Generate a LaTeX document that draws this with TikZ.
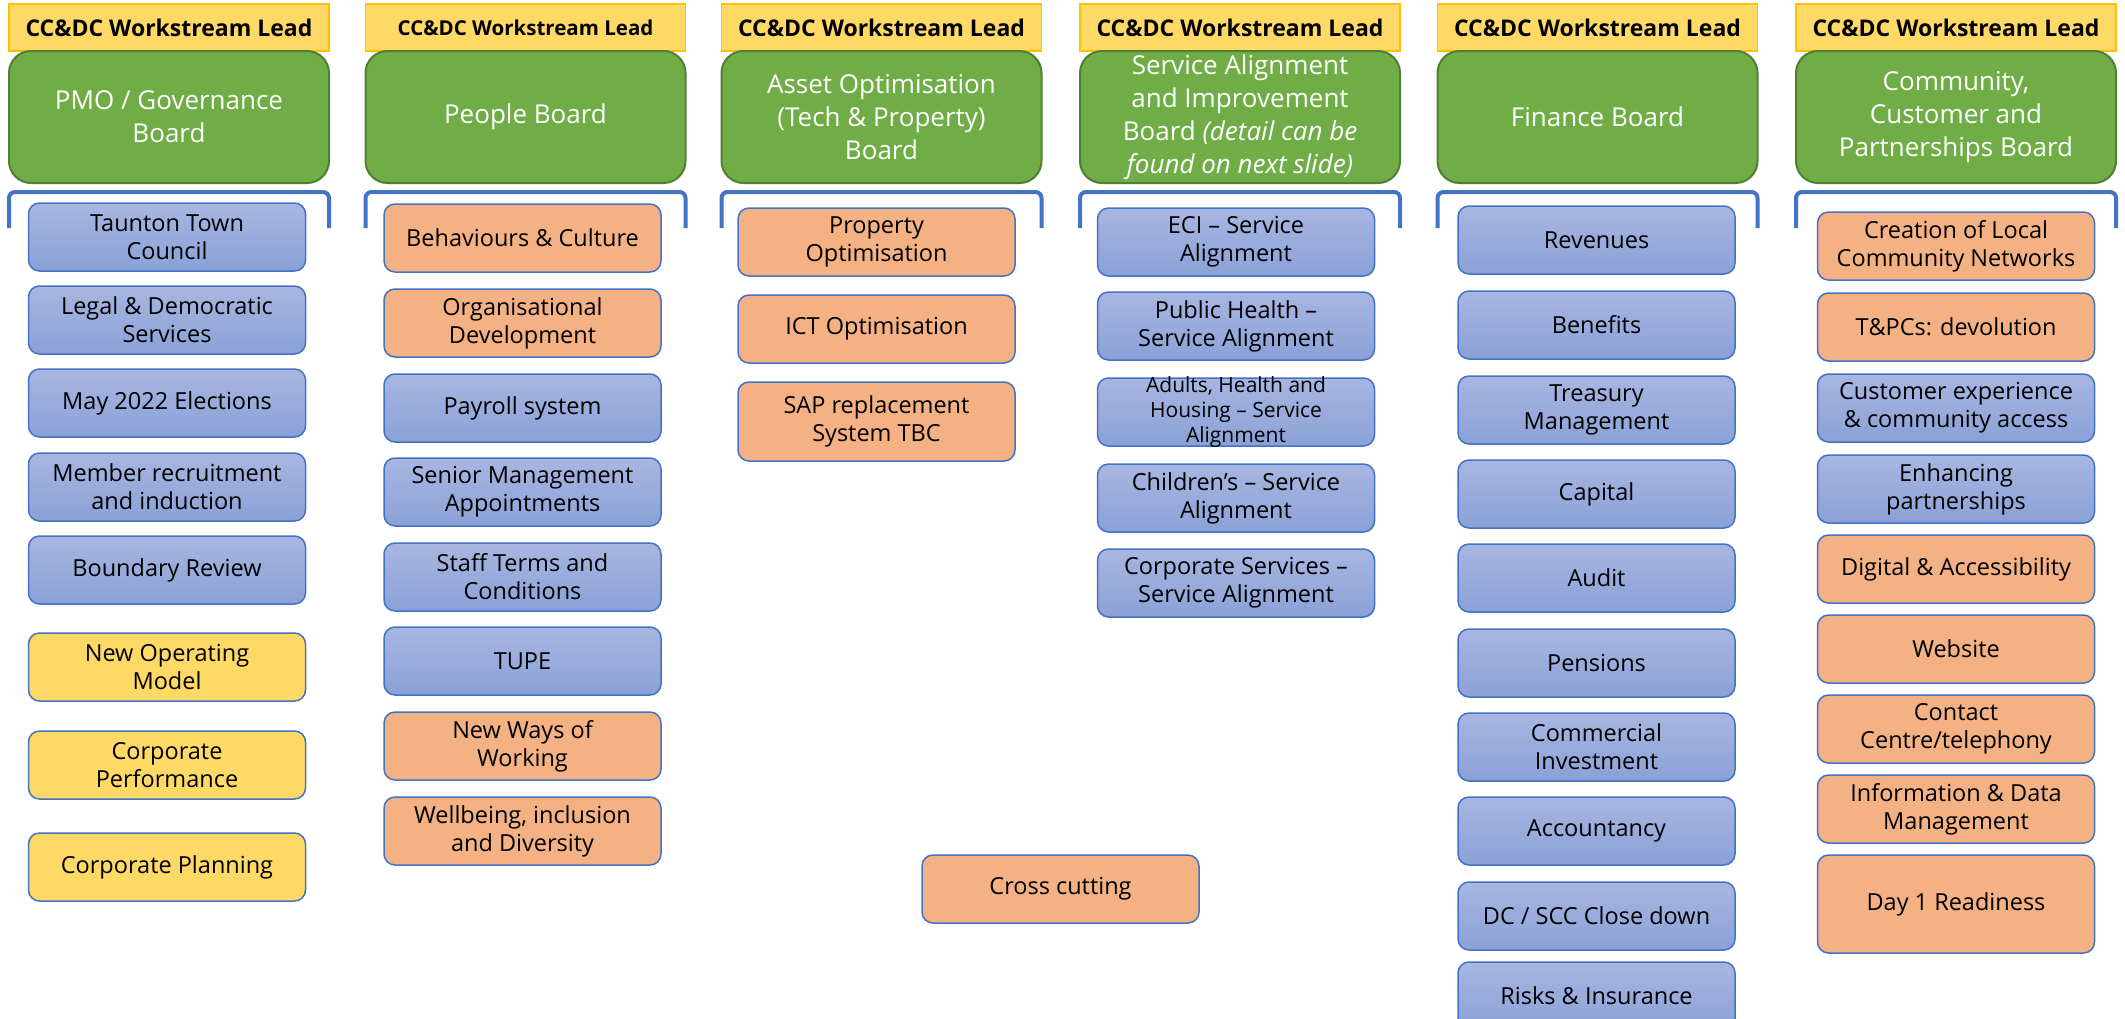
\documentclass[tikz,border=0pt]{standalone}
\usepackage{fontspec}
\setmainfont{Open Sans}
\usetikzlibrary{positioning, calc}
\definecolor{leadyellow}{HTML}{FFD966}
\definecolor{leadedge}{HTML}{FFC000}
\definecolor{boardgreen}{HTML}{70AD47}
\definecolor{boardedge}{HTML}{507E32}
\definecolor{bluetop}{HTML}{A8B6E1}
\definecolor{bluebottom}{HTML}{8AA1D7}
\definecolor{orangefill}{HTML}{F4B183}
\definecolor{itemedge}{HTML}{4472C4}
\tikzset{
  lead/.style={rectangle, minimum width=320pt, minimum height=47pt,
    inner sep=0pt, outer sep=0pt, fill=leadyellow, draw=leadedge, line width=1.5pt,
    font=\fontsize{23}{28}\selectfont\bfseries},
  board/.style={rectangle, rounded corners=22pt,
    minimum width=320pt, minimum height=132pt, inner sep=2pt, outer sep=0pt,
    fill=boardgreen, draw=boardedge, line width=2pt,
    text=white, align=center, font=\fontsize{26}{33}\selectfont},
  item/.style={rectangle, rounded corners=11pt,
    minimum width=277pt, minimum height=68pt, inner sep=2pt, outer sep=0pt,
    draw=itemedge, line width=1.5pt,
    align=center, font=\fontsize{23.5}{28}\selectfont},
  blueitem/.style={item, top color=bluetop, bottom color=bluebottom},
  orangeitem/.style={item, fill=orangefill},
  yellowitem/.style={item, fill=leadyellow},
  bracket/.style={draw=itemedge, line width=4pt, rounded corners=6pt},
}
\begin{document}
\begin{tikzpicture}[x=1pt, y=-1pt, node distance=16pt]
\useasboundingbox (0,0) rectangle (2125,1018);
\clip (0,0) rectangle (2125,1018);

% workstream leads and boards
\node (lead1) [lead] at (169,27.5) {CC\&DC Workstream Lead};
\node (lead2) [lead, font=\fontsize{20.5}{25}\selectfont\bfseries] at (525.5,27.5) {CC\&DC Workstream Lead};
\node (lead3) [lead] at (881.5,27.5) {CC\&DC Workstream Lead};
\node (lead4) [lead] at (1240,27.5) {CC\&DC Workstream Lead};
\node (lead5) [lead] at (1597.5,27.5) {CC\&DC Workstream Lead};
\node (lead6) [lead] at (1956,27.5) {CC\&DC Workstream Lead};

\node (pmo) [board, below=0pt of lead1] {PMO / Governance\\Board};
\node (people) [board, below=0pt of lead2] {People Board};
\node (asset) [board, below=0pt of lead3] {Asset Optimisation\\(Tech \& Property)\\Board};
\node (service) [board, below=0pt of lead4]
  {Service Alignment\\and Improvement\\Board \textit{(detail can be}\\\textit{found on next slide)}};
\node (finance) [board, below=0pt of lead5] {Finance Board};
\node (community) [board, below=0pt of lead6] {Community,\\Customer and\\Partnerships Board};

\draw[bracket] ([yshift=-45pt]pmo.south west) -- ([yshift=-9pt]pmo.south west) -- ([yshift=-9pt]pmo.south east) -- ([yshift=-45pt]pmo.south east);
\draw[bracket] ([yshift=-45pt]people.south west) -- ([yshift=-9pt]people.south west) -- ([yshift=-9pt]people.south east) -- ([yshift=-45pt]people.south east);
\draw[bracket] ([yshift=-45pt]asset.south west) -- ([yshift=-9pt]asset.south west) -- ([yshift=-9pt]asset.south east) -- ([yshift=-45pt]asset.south east);
\draw[bracket] ([yshift=-45pt]service.south west) -- ([yshift=-9pt]service.south west) -- ([yshift=-9pt]service.south east) -- ([yshift=-45pt]service.south east);
\draw[bracket] ([yshift=-45pt]finance.south west) -- ([yshift=-9pt]finance.south west) -- ([yshift=-9pt]finance.south east) -- ([yshift=-45pt]finance.south east);
\draw[bracket] ([yshift=-45pt]community.south west) -- ([yshift=-9pt]community.south west) -- ([yshift=-9pt]community.south east) -- ([yshift=-45pt]community.south east);

% PMO / Governance
\node (ttc) [blueitem, below=20pt of pmo, xshift=-2pt] {Taunton Town\\Council};
\node (legal) [blueitem, below=15pt of ttc] {Legal \& Democratic\\Services};
\node (elect) [blueitem, below=15pt of legal] {May 2022 Elections};
\node (member) [blueitem, below=of elect] {Member recruitment\\and induction};
\node (boundary) [blueitem, below=15pt of member] {Boundary Review};
\node (opmodel) [yellowitem, below=29pt of boundary] {New Operating\\Model};
\node (corpperf) [yellowitem, below=30pt of opmodel] {Corporate\\Performance};
\node (corpplan) [yellowitem, below=34pt of corpperf] {Corporate Planning};

% People
\node (culture) [orangeitem, below=21pt of people, xshift=-3pt] {Behaviours \& Culture};
\node (orgdev) [orangeitem, below=17pt of culture] {Organisational\\Development};
\node (payroll) [blueitem, below=17pt of orgdev] {Payroll system};
\node (senior) [blueitem, below=of payroll] {Senior Management\\Appointments};
\node (terms) [blueitem, below=17pt of senior] {Staff Terms and\\Conditions};
\node (tupe) [blueitem, below=of terms] {TUPE};
\node (newways) [orangeitem, below=17pt of tupe] {New Ways of\\Working};
\node (wellbeing) [orangeitem, below=17pt of newways] {Wellbeing, inclusion\\and Diversity};

% Asset Optimisation
\node (property) [orangeitem, below=25pt of asset, xshift=-5pt] {Property\\Optimisation};
\node (ict) [orangeitem, below=19pt of property] {ICT Optimisation};
\node (sap) [orangeitem, below=19pt of ict, minimum height=79pt] {SAP replacement\\System TBC};
\node (cross) [orangeitem] at (1060.5,889) {Cross cutting};

% Service Alignment and Improvement
\node (eci) [blueitem, below=25pt of service, xshift=-4pt] {ECI – Service\\Alignment};
\node (health) [blueitem, below=of eci] {Public Health –\\Service Alignment};
\node (adults) [blueitem, below=18pt of health, inner ysep=-6pt, font=\fontsize{21}{25}\selectfont]
  {Adults, Health and\\Housing – Service\\Alignment};
\node (children) [blueitem, below=18pt of adults] {Children's – Service\\Alignment};
\node (corpserv) [blueitem, below=17pt of children] {Corporate Services –\\Service Alignment};

% Finance
\node (revenues) [blueitem, below=23pt of finance, xshift=-1pt] {Revenues};
\node (benefits) [blueitem, below=17pt of revenues] {Benefits};
\node (treasury) [blueitem, below=17pt of benefits] {Treasury\\Management};
\node (capital) [blueitem, below=of treasury] {Capital};
\node (audit) [blueitem, below=of capital] {Audit};
\node (pensions) [blueitem, below=17pt of audit] {Pensions};
\node (invest) [blueitem, below=of pensions] {Commercial\\Investment};
\node (account) [blueitem, below=of invest] {Accountancy};
\node (closedown) [blueitem, below=17pt of account] {DC / SCC Close down};
\node (risks) [blueitem, below=12pt of closedown] {Risks \& Insurance};

% Community, Customer and Partnerships
\node (networks) [orangeitem, below=29pt of community] {Creation of Local\\Community Networks};
\node (devolve) [orangeitem, below=13pt of networks] {T\&PCs: devolution};
\node (custexp) [blueitem, below=13pt of devolve] {Customer experience\\\& community access};
\node (partner) [blueitem, below=13pt of custexp] {Enhancing\\partnerships};
\node (digital) [orangeitem, below=12pt of partner] {Digital \& Accessibility};
\node (website) [orangeitem, below=12pt of digital] {Website};
\node (contact) [orangeitem, below=12pt of website] {Contact\\Centre/telephony};
\node (infodata) [orangeitem, below=12pt of contact] {Information \& Data\\Management};
\node (dayone) [orangeitem, below=12pt of infodata, minimum height=98pt] {Day 1 Readiness};

\end{tikzpicture}
\end{document}
